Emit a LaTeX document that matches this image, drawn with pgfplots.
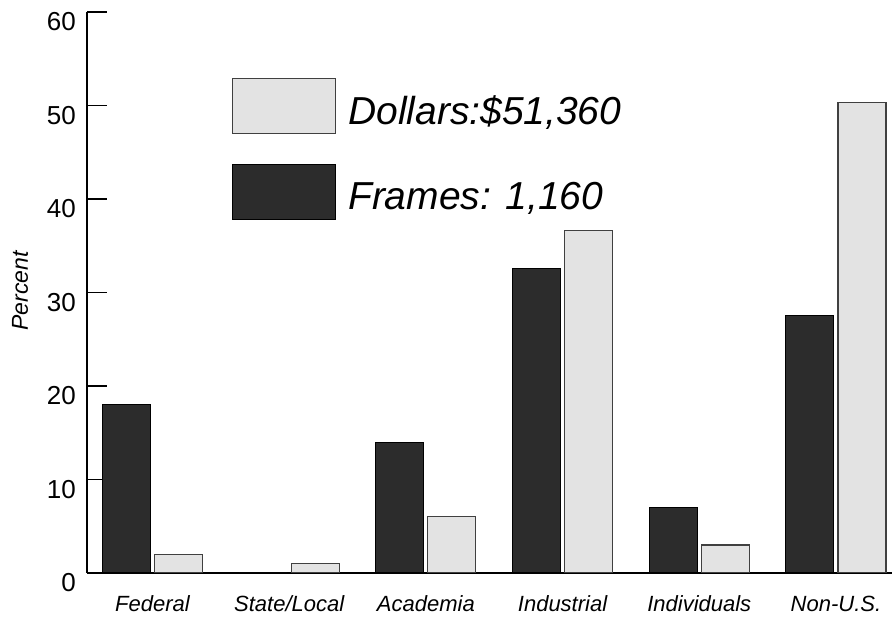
\documentclass[border=0pt]{standalone}
\usepackage{pgfplots}
\pgfplotsset{compat=1.18}
\usepackage{fontspec}
\setmainfont{Liberation Sans}
\definecolor{darkbar}{HTML}{2C2C2C}
\definecolor{lightbar}{HTML}{E3E3E3}
\pgfplotsset{bigbox/.style={legend image code/.code={\draw[##1] (0pt,-23pt) rectangle (103pt,32pt);}}}
\begin{document}
\begin{tikzpicture}
\begin{axis}[
  scale only axis, width=805pt, height=561pt,
  xmin=-0.479, xmax=5.41, ymin=0, ymax=60,
  axis x line*=bottom, axis y line*=left,
  axis line style={line width=1.4pt, -},
  ytick={0,10,...,60},
  tick align=inside,
  major tick length=20pt,
  tick style={line width=1.4pt, black},
  /pgf/number format/assume math mode=true,
  yticklabel style={font=\fontsize{26}{26}\selectfont, inner sep=0pt, xshift=-11pt, yshift=-10pt},
  xtick={0,...,5},
  xticklabels={Federal, State/Local, Academia, Industrial, Individuals, Non-U.S.},
  x tick style={draw=none},
  xticklabel style={font=\fontsize{22}{22}\selectfont\itshape, inner sep=0pt, anchor=base, yshift=-39pt},
  extra x ticks={0.5,1.5,2.5,3.5,4.5},
  extra x tick labels={},
  extra x tick style={major tick length=13pt, tick style={line width=1.4pt, draw=black}},
  ylabel={Percent},
  ylabel style={font=\fontsize{23}{23}\selectfont\itshape, at={(axis description cs:0,0.503)}, anchor=center, yshift=67pt},
  legend style={draw=none, fill=none, at={(axis description cs:0.1801,0.8824)}, anchor=north west, inner sep=0pt, outer sep=0pt,
    row sep=30pt, column sep=12pt, font=\fontsize{39}{39}\selectfont\itshape, nodes={inner sep=0pt}},
  legend cell align=left,
]
\addplot[ybar, bar width=48pt, bar shift=26pt, fill=lightbar, draw=black!75, line width=1.2pt, bigbox]
  coordinates {(0,2) (1,1) (2,6) (3,36.6) (4,3) (5,50.3)};
\addplot[ybar, bar width=48pt, bar shift=-26pt, fill=darkbar, draw=black, line width=1pt, bigbox]
  coordinates {(0,18) (1,0) (2,14) (3,32.6) (4,7) (5,27.5)};
\legend{{Dollars:\$51,360}, {Frames: 1,160}}
\end{axis}
\pgfresetboundingbox
\useasboundingbox ([xshift=-87pt,yshift=-44pt]current axis.south west) rectangle ([yshift=12pt]current axis.north east);
\end{tikzpicture}
\end{document}
